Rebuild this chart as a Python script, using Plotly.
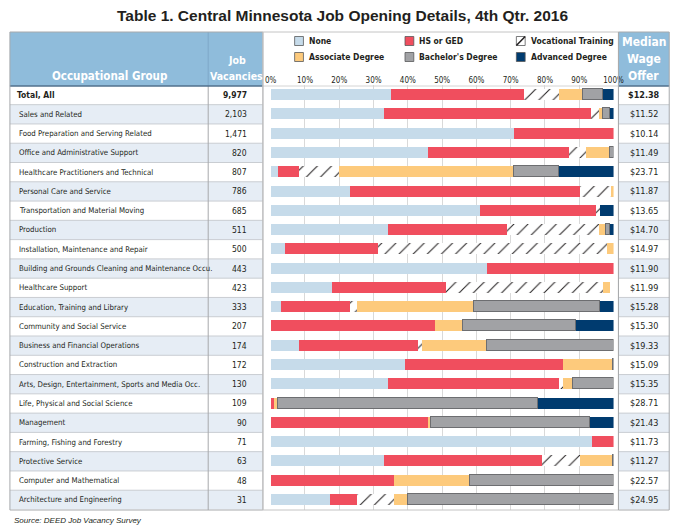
import plotly.graph_objects as go

W, H = 689, 528


def X(px):
    return px / W


def Y(py):
    return 1 - py / H


# ---------------- data ----------------
categories = [
    "Total, All",
    "Sales and Related",
    "Food Preparation and Serving Related",
    "Office and Administrative Support",
    "Healthcare Practitioners and Technical",
    "Personal Care and Service",
    "Transportation and Material Moving",
    "Production",
    "Installation, Maintenance and Repair",
    "Building and Grounds Cleaning and Maintenance Occu.",
    "Healthcare Support",
    "Education, Training and Library",
    "Community and Social Service",
    "Business and Financial Operations",
    "Construction and Extraction",
    "Arts, Design, Entertainment, Sports and Media Occ.",
    "Life, Physical and Social Science",
    "Management",
    "Farming, Fishing and Forestry",
    "Protective Service",
    "Computer and Mathematical",
    "Architecture and Engineering",
]
vacancies = [9977, 2103, 1471, 820, 807, 786, 685, 511, 500, 443, 423,
             333, 207, 174, 172, 130, 109, 90, 71, 63, 48, 31]
wages = [12.38, 11.52, 10.14, 11.49, 23.71, 11.87, 13.65, 14.70, 14.97, 11.90, 11.99,
         15.28, 15.30, 19.33, 15.09, 15.35, 28.71, 21.43, 11.73, 11.27, 22.57, 24.95]

none_pct = [35.0, 33.0, 70.8, 45.9, 1.9, 23.0, 61.1, 34.0, 4.0, 63.1, 17.9,
            2.9, 0, 8.1, 39.0, 34.0, 0, 0, 93.7, 33.0, 0, 17.1]
hs_pct = [38.9, 60.2, 29.2, 41.1, 6.2, 67.1, 33.8, 34.9, 27.1, 36.9, 33.1,
          20.1, 47.9, 34.8, 46.1, 50.0, 0.8, 45.9, 6.3, 46.0, 36.0, 7.9]
voc_pct = [10.1, 2.6, 0, 5.0, 11.7, 9.0, 1.0, 26.9, 66.8, 0, 45.9,
           2.1, 0, 1.0, 0, 1.1, 0, 0, 0, 11.1, 0, 11.0]
assoc_pct = [7.0, 1.1, 0, 7.0, 51.0, 0.9, 0, 1.9, 2.1, 0, 2.1,
             34.0, 8.0, 19.2, 14.6, 3.0, 1.2, 0.9, 0, 9.6, 21.9, 4.0]
bach_pct = [5.9, 2.1, 0, 1.0, 13.2, 0, 0, 1.1, 0, 0, 0,
            36.8, 33.2, 36.9, 0.3, 11.9, 75.9, 46.2, 0, 0.3, 42.1, 60.0]
adv_pct = [3.1, 1.0, 0, 0, 16.0, 0, 4.1, 1.2, 0, 0, 0,
           4.1, 10.9, 0, 0, 0, 22.1, 6.9, 0, 0, 0, 0]

tick_vals = [0, 10, 20, 30, 40, 50, 60, 70, 80, 90, 100]
tick_text = [f"{v}%" for v in tick_vals]

legend_names = ["None", "HS or GED", "Vocational Training",
                "Associate Degree", "Bachelor's Degree", "Advanced Degree"]

# ---------------- styles ----------------
FN = "DejaVu Sans Condensed, Liberation Sans, sans-serif"
FT = "Liberation Sans, Arial, sans-serif"
TXT = "#231f20"
HEAD = "#8fbcdb"
SHADE = "#e6edf5"
SEP = "#c9cdd2"
colors = {
    "None": "#c6dbea",
    "HS or GED": "#f04e5e",
    "Associate Degree": "#fdca7c",
    "Bachelor's Degree": "#a1a2a5",
    "Advanced Degree": "#003b6f",
}

fig = go.Figure()

series = [
    ("None", none_pct),
    ("HS or GED", hs_pct),
    ("Vocational Training", voc_pct),
    ("Associate Degree", assoc_pct),
    ("Bachelor's Degree", bach_pct),
    ("Advanced Degree", adv_pct),
]
for name, vals in series:
    if name == "Vocational Training":
        marker = dict(color="white",
                      pattern=dict(shape="/", fgcolor=TXT, bgcolor="white",
                                   size=10, solidity=0.1, fillmode="replace"),
                      line=dict(width=0))
    elif name == "Bachelor's Degree":
        marker = dict(color=colors[name], line=dict(color="#6d6e71", width=1))
    else:
        marker = dict(color=colors[name], line=dict(width=0))
    fig.add_trace(go.Bar(
        y=categories, x=[v if v else None for v in vals], orientation="h",
        name=name, marker=marker, width=0.57, showlegend=False,
        hovertemplate="%{y}<br>" + name + ": %{x:.1f}%<extra></extra>",
    ))

shapes = []
annotations = []

L0, L1, LDIV = 4, 263, 207      # left table
R0, R1 = 627, 679               # right table
TOP, HB, BOT = 32, 86, 510      # table top, header bottom, table bottom

# header fills
shapes.append(dict(type="rect", xref="paper", yref="paper", x0=X(L0), x1=X(L1),
                   y0=Y(HB), y1=Y(TOP), fillcolor=HEAD, line=dict(width=0), layer="below"))
shapes.append(dict(type="rect", xref="paper", yref="paper", x0=X(R0), x1=X(R1),
                   y0=Y(HB), y1=Y(TOP), fillcolor=HEAD, line=dict(width=0), layer="below"))

# row shading and separators
n = len(categories)
for i in range(n):
    if i % 2 == 1:
        for a, b in ((L0, L1), (R0, R1)):
            shapes.append(dict(type="rect", xref="paper", yref="y", x0=X(a), x1=X(b),
                               y0=i - 0.5, y1=i + 0.5, fillcolor=SHADE,
                               line=dict(width=0), layer="below"))
for i in range(n - 1):
    for a, b in ((L0, L1), (R0, R1)):
        shapes.append(dict(type="line", xref="paper", yref="y", x0=X(a), x1=X(b),
                           y0=i + 0.5, y1=i + 0.5, line=dict(color=SEP, width=1)))

# column divider
shapes.append(dict(type="line", xref="paper", yref="paper", x0=X(LDIV), x1=X(LDIV),
                   y0=Y(HB), y1=Y(TOP), line=dict(color="#7ea9c8", width=1)))
shapes.append(dict(type="line", xref="paper", yref="paper", x0=X(LDIV), x1=X(LDIV),
                   y0=Y(BOT), y1=Y(HB), line=dict(color="#a7a9ac", width=1)))

# header bottom lines
shapes.append(dict(type="line", xref="paper", yref="paper", x0=X(L0), x1=X(L1),
                   y0=Y(HB), y1=Y(HB), line=dict(color="#50718d", width=1.5)))
shapes.append(dict(type="line", xref="paper", yref="paper", x0=X(R0), x1=X(R1),
                   y0=Y(HB), y1=Y(HB), line=dict(color="#50718d", width=1.5)))
shapes.append(dict(type="line", xref="paper", yref="paper", x0=X(L1), x1=X(R0),
                   y0=Y(HB), y1=Y(HB), line=dict(color="#d4d4d4", width=1)))

# borders
for a, b, c in ((L0, L1, "#a7a9ac"), (L1, R0, "#c4c4c4"), (R0, R1, "#a7a9ac")):
    shapes.append(dict(type="rect", xref="paper", yref="paper", x0=X(a), x1=X(b),
                       y0=Y(BOT), y1=Y(TOP), line=dict(color=c, width=1),
                       fillcolor="rgba(0,0,0,0)"))

# title
annotations.append(dict(xref="paper", yref="paper", x=X(344), y=Y(15),
                        text="<b>Table 1. Central Minnesota Job Opening Details, 4th Qtr. 2016</b>",
                        showarrow=False, font=dict(family=FT, size=15.5, color=TXT),
                        xanchor="center", yanchor="middle"))

# header texts
annotations.append(dict(xref="paper", yref="paper", x=X(106), y=Y(76),
                        text="<b>Occupational Group</b>", showarrow=False,
                        font=dict(family=FN, size=11.5, color="white"),
                        xanchor="center", yanchor="middle"))
annotations.append(dict(xref="paper", yref="paper", x=X(236), y=Y(60),
                        text="<b>Job</b>", showarrow=False,
                        font=dict(family=FN, size=10.5, color="white"),
                        xanchor="center", yanchor="middle"))
annotations.append(dict(xref="paper", yref="paper", x=X(236), y=Y(76),
                        text="<b>Vacancies</b>", showarrow=False,
                        font=dict(family=FN, size=10.5, color="white"),
                        xanchor="center", yanchor="middle"))
for t, yy in (("Median", 42), ("Wage", 59), ("Offer", 76)):
    annotations.append(dict(xref="paper", yref="paper", x=X(653), y=Y(yy),
                            text=f"<b>{t}</b>", showarrow=False,
                            font=dict(family=FN, size=12, color="white"),
                            xanchor="center", yanchor="middle"))

# custom legend
leg_x = [300, 413, 527]
leg_y = [41, 57]
half = 4.5
for k, name in enumerate(legend_names):
    cx = leg_x[k % 3]
    cy = leg_y[k // 3]
    fill = "white" if name == "Vocational Training" else colors[name]
    shapes.append(dict(type="rect", xref="paper", yref="paper",
                       x0=X(cx - half), x1=X(cx + half), y0=Y(cy + half), y1=Y(cy - half),
                       fillcolor=fill, line=dict(color="#58595b", width=0.8)))
    if name == "Vocational Training":
        shapes.append(dict(type="line", xref="paper", yref="paper",
                           x0=X(cx - half), x1=X(cx + half), y0=Y(cy + half), y1=Y(cy - half),
                           line=dict(color=TXT, width=1.5)))
    annotations.append(dict(xref="paper", yref="paper", x=X(cx + 8), y=Y(cy),
                            text=f"<b>{name}</b>", showarrow=False,
                            font=dict(family=FN, size=8.5, color=TXT),
                            xanchor="left", yanchor="middle"))

# table row texts
for i, cat in enumerate(categories):
    bold = i == 0
    f = dict(family=FN, size=7.8 if not bold else 8.5, color=TXT)
    lab = f"<b>{cat}</b>" if bold else cat
    vac = f"{vacancies[i]:,}"
    wag = f"${wages[i]:.2f}"
    if bold:
        vac, wag = f"<b>{vac}</b>", f"<b>{wag}</b>"
    annotations.append(dict(xref="paper", yref="y", x=X(9 if bold else 11), y=cat,
                            text=lab, showarrow=False, font=f,
                            xanchor="left", yanchor="middle"))
    annotations.append(dict(xref="paper", yref="y", x=X(249), y=cat,
                            text=vac, showarrow=False,
                            font=dict(family=FN, size=8.5, color=TXT),
                            xanchor="right", yanchor="middle"))
    annotations.append(dict(xref="paper", yref="y", x=X(653), y=cat,
                            text=wag, showarrow=False,
                            font=dict(family=FN, size=9, color=TXT),
                            xanchor="center", yanchor="middle"))

# source
annotations.append(dict(xref="paper", yref="paper", x=X(6), y=Y(520),
                        text="<i>Source: DEED Job Vacancy Survey</i>", showarrow=False,
                        font=dict(family=FT, size=8, color=TXT),
                        xanchor="left", yanchor="middle"))

fig.update_layout(
    width=W, height=H,
    margin=dict(l=0, r=0, t=0, b=0),
    paper_bgcolor="white", plot_bgcolor="rgba(0,0,0,0)",
    barmode="stack", bargap=0,
    showlegend=False,
    shapes=shapes, annotations=annotations,
    xaxis=dict(domain=[X(271), X(622)], range=[0, 100], side="top",
               tickvals=tick_vals, ticktext=tick_text, ticks="",
               tickfont=dict(family=FN, size=8, color=TXT),
               showgrid=True, gridcolor="#d9d9d9", gridwidth=1.2,
               zeroline=False, showline=False, fixedrange=True),
    yaxis=dict(domain=[Y(509.5), Y(85.4)], type="category",
               categoryorder="array", categoryarray=categories,
               range=[n - 0.5, -0.5], showticklabels=False, showgrid=False,
               zeroline=False, showline=False, fixedrange=True),
)

fig.write_html(
    "out.html",
    config={"displayModeBar": False},
    post_script="document.documentElement.style.margin='0';"
                "document.body.style.margin='0';document.body.style.padding='0';"
                "document.body.style.overflow='hidden';",
)
